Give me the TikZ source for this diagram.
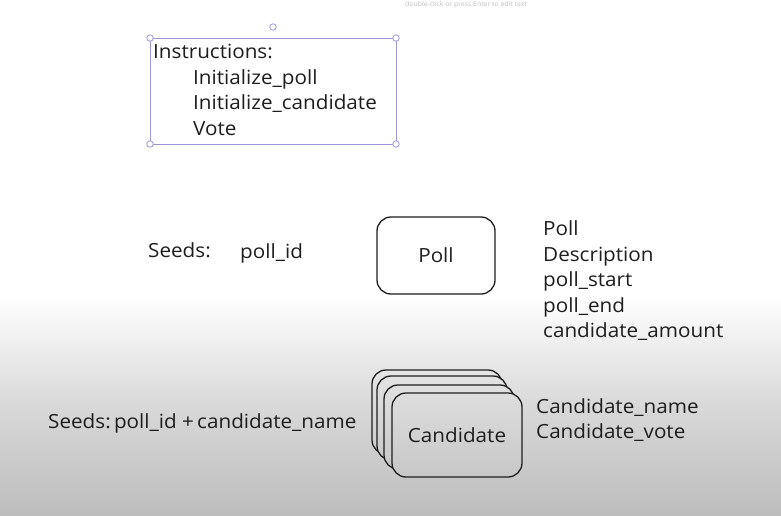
\documentclass[tikz,border=0pt]{standalone}
\usepackage{fontspec}
\setmainfont[FakeStretch=1.06]{Open Sans}
\usetikzlibrary{positioning}

\definecolor{selcol}{HTML}{9B98D8}
\definecolor{ink}{HTML}{1E1E1E}

\begin{document}
\begin{tikzpicture}[x=1pt, y=-1pt, every node/.style={font=\fontsize{19.5}{23}\selectfont, text=ink, inner sep=0pt}, lbl/.style={anchor=base west}, card/.style={draw=ink, line width=1.3pt, rounded corners=14pt, minimum width=130pt, minimum height=84pt}, handle/.style={circle, draw=selcol, fill=white, line width=0.8pt, minimum size=6.5pt}]
	% page and grey fade at the bottom
	\fill[white] (0,0) rectangle (781,515);
	\shade[top color=white, bottom color=black!26, middle color=black!15] (0,295) rectangle (781,515);
	\useasboundingbox (0,0) rectangle (781,515);
	\node[lbl, font=\fontsize{6.5}{8}\selectfont, text=black!25] (hint) at (405,6) {double-click or press Enter to edit text};

	% selected text block
	\draw[selcol, line width=0.8pt] (150,38) rectangle (396,144);
	\foreach \hx/\hy [count=\i] in {150/38, 396/38, 150/144, 396/144, 273/27}
		\node[handle] (h\i) at (\hx,\hy) {};
	\node[lbl] (instr) at (153,58) {Instructions:};
	\node[lbl] (ipoll) at (193,84) {Initialize\_poll};
	\node[lbl] (icand) at (193,109) {Initialize\_candidate};
	\node[lbl] (ivote) at (193,135) {Vote};

	% poll account
	\node[lbl] (seedsa) at (148,257) {Seeds:};
	\node[lbl] (pollid) at (240,258) {poll\_id};
	\node[card, minimum width=118pt, minimum height=77pt] (pollbox) at (436,255.5) {Poll};
	\node[lbl] (fpoll) at (543,235) {Poll};
	\node[lbl] (fdesc) at (543,261) {Description};
	\node[lbl] (fstart) at (543,286) {poll\_start};
	\node[lbl] (fend) at (543,312) {poll\_end};
	\node[lbl] (famount) at (543,337) {candidate\_amount};

	% candidate accounts, stacked
	\node[lbl] (seedsb) at (48,428) {Seeds:\,poll\_id +\,candidate\_name};
	\foreach \cx/\cy/\ct/\cb [count=\i] in {437/412/10/20, 442/418/11/21, 449/427/12/22, 457/435/13/22}
		\node[card, top color=black!\ct, bottom color=black!\cb] (c\i) at (\cx,\cy) {};
	\node (candtext) at (c4) {Candidate};
	\node[lbl] (fcname) at (536,413) {Candidate\_name};
	\node[lbl] (fcvote) at (536,438) {Candidate\_vote};
\end{tikzpicture}
\end{document}
